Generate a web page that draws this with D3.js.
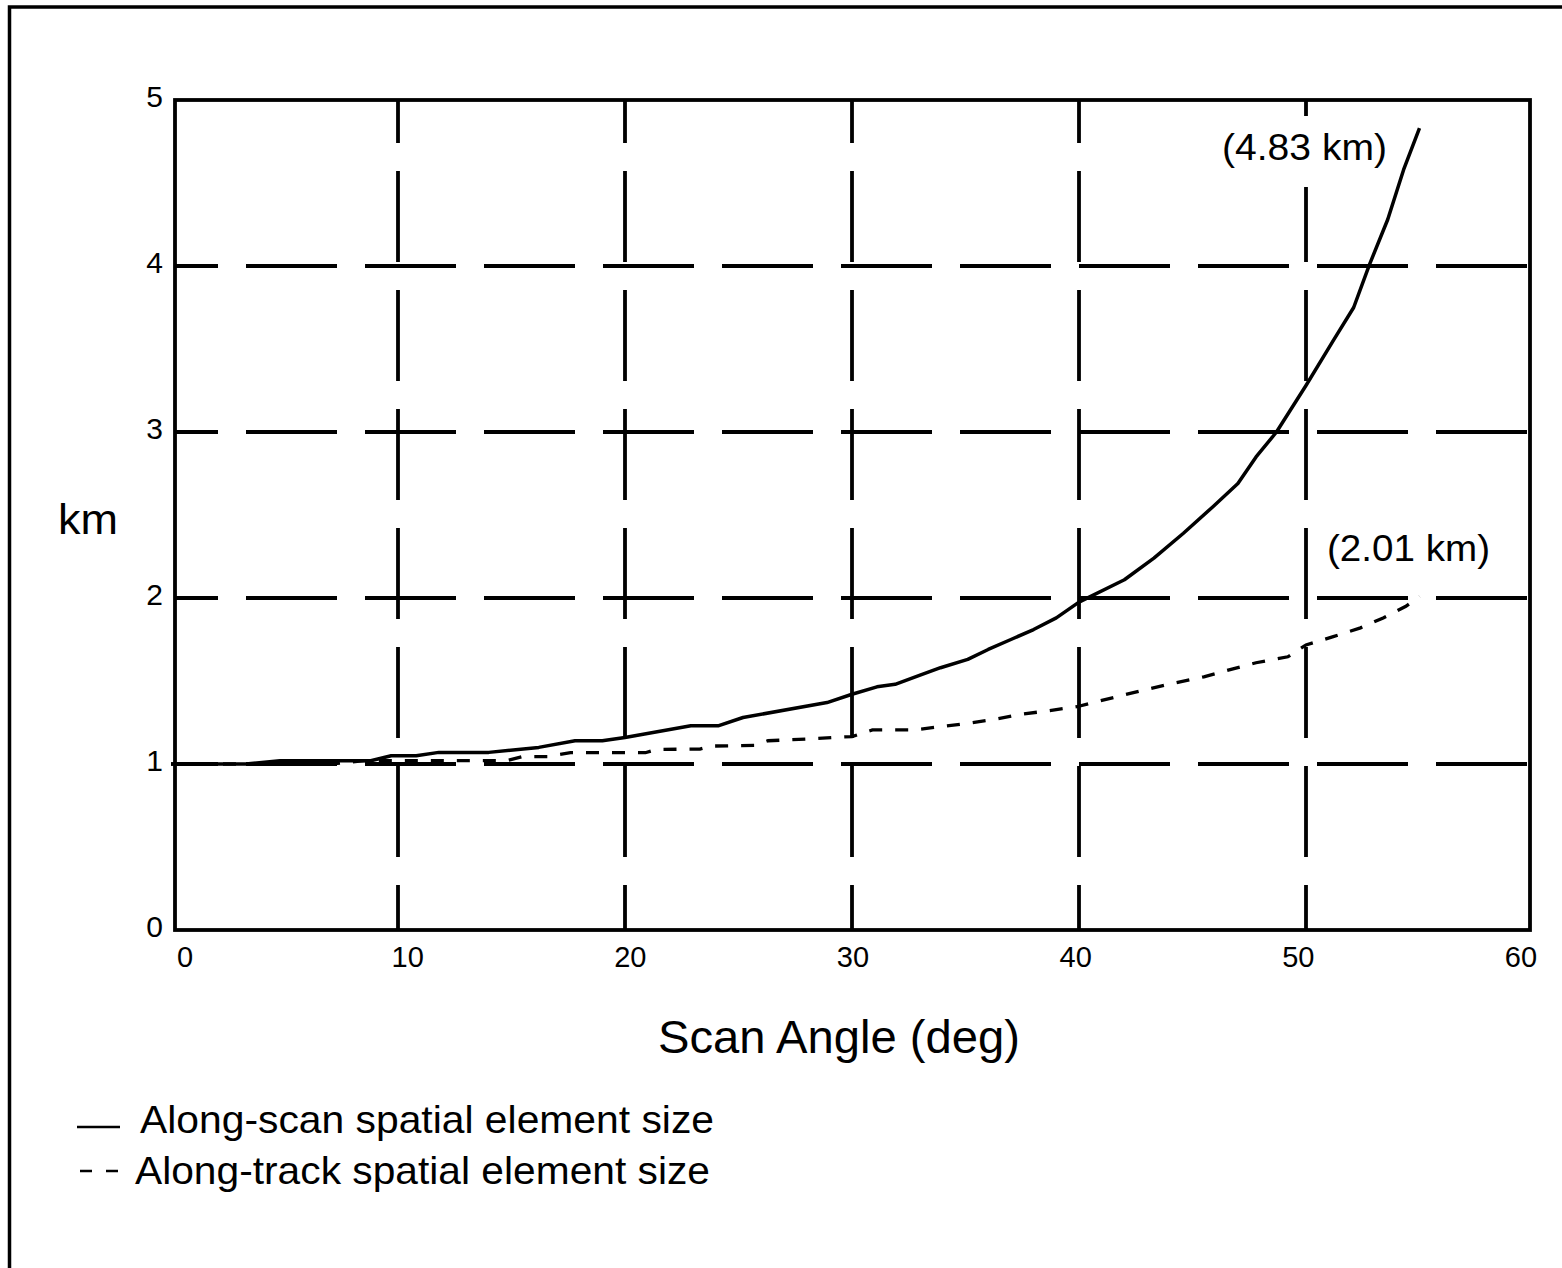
<!DOCTYPE html>
<html>
<head>
<meta charset="utf-8">
<script src="https://cdn.jsdelivr.net/npm/d3@7"></script>
<style>
  body { margin: 0; background: #fff; }
  svg { display: block; font-family: "Liberation Sans", Arial, sans-serif; }
</style>
</head>
<body>
<div id="chart"></div>
<script>
// scan angle (deg) and spatial element size (km)
const scanDeg = [0, 3.3, 4.8, 8.8, 9.7, 10.8, 11.8, 14.0, 16.2, 17.8, 19.0, 20.0, 22.9, 24.1, 25.2, 28.9, 30.0, 31.1, 31.9, 33.0, 33.9, 35.1, 36, 37, 38, 39, 40, 42.0, 43.3, 44.6, 45.9, 47.0, 47.8, 48.7, 50.0, 51.2, 52.1, 52.8, 53.6, 54.3, 55];
const alongScan = [1.00, 1.00, 1.02, 1.02, 1.05, 1.05, 1.07, 1.07, 1.10, 1.14, 1.14, 1.16, 1.23, 1.23, 1.28, 1.37, 1.42, 1.465, 1.48, 1.535, 1.58, 1.63, 1.69, 1.75, 1.81, 1.88, 1.975, 2.11, 2.24, 2.39, 2.55, 2.69, 2.85, 3.00, 3.28, 3.55, 3.75, 4.01, 4.28, 4.58, 4.83];

const trackDeg = [0, 7, 8.5, 14.8, 15.5, 16.6, 17.6, 20.9, 21.4, 23.3, 23.8, 25.7, 26.3, 28.0, 29.2, 30.0, 30.9, 32.7, 33.9, 35.1, 36.3, 37.5, 38.6, 39.9, 41.8, 43.0, 44.1, 45.5, 46.7, 47.8, 49.2, 50.0, 51.2, 52.4, 53.4, 54.4, 55];
const alongTrack = [1.00, 1.00, 1.02, 1.02, 1.045, 1.045, 1.068, 1.068, 1.088, 1.09, 1.108, 1.112, 1.14, 1.15, 1.16, 1.165, 1.205, 1.205, 1.225, 1.245, 1.27, 1.30, 1.32, 1.345, 1.41, 1.45, 1.485, 1.525, 1.57, 1.61, 1.646, 1.717, 1.767, 1.82, 1.88, 1.95, 2.01];

const xTicks = [0, 10, 20, 30, 40, 50, 60];
const yTicks = [0, 1, 2, 3, 4, 5];
const xGrid = [10, 20, 30, 40, 50];
const yGrid = [1, 2, 3, 4];

const endLabels = [
  {text: "(4.83 km)", x: 1222, y: 160, len: 165, box: true},
  {text: "(2.01 km)", x: 1327, y: 561, len: 163, box: false}
];
const legendItems = [
  {text: "Along-scan spatial element size", dash: null, len: 574},
  {text: "Along-track spatial element size", dash: "12 14", len: 575}
];

const width = 1562, height = 1268;
const frame = {left: 175, right: 1530, top: 100, bottom: 930};

const x = d3.scaleLinear([0, 60], [171, 1533]);
const xLabel = d3.scaleLinear([0, 60], [185, 1521]);
const y = d3.scaleLinear([0, 5], [frame.bottom, frame.top]);

const svg = d3.select("#chart")
  .append("svg")
  .attr("width", width)
  .attr("height", height);

svg.append("rect").attr("width", width).attr("height", height).attr("fill", "#fff");

// outer border of the figure
svg.append("rect")
  .attr("x", 9.5).attr("y", 7)
  .attr("width", width + 20).attr("height", height + 20)
  .attr("fill", "none").attr("stroke", "#000").attr("stroke-width", 3.5);

// grid
const grid = svg.append("g")
  .attr("stroke", "#000")
  .attr("stroke-width", 3.8)
  .attr("stroke-dasharray", "91 28")
  .attr("stroke-dashoffset", 48);

grid.selectAll("line.v")
  .data(xGrid)
  .join("line")
  .attr("class", "v")
  .attr("x1", d => x(d)).attr("x2", d => x(d))
  .attr("y1", frame.top).attr("y2", frame.bottom);

grid.selectAll("line.h")
  .data(yGrid)
  .join("line")
  .attr("class", "h")
  .attr("x1", frame.left).attr("x2", frame.right)
  .attr("y1", d => y(d)).attr("y2", d => y(d));

// curves
const line = d3.line().x(d => x(d[0])).y(d => y(d[1]));

svg.append("path")
  .datum(d3.zip(scanDeg, alongScan))
  .attr("fill", "none")
  .attr("stroke", "#000")
  .attr("stroke-width", 3.5)
  .attr("stroke-linejoin", "round")
  .attr("d", line);

svg.append("path")
  .datum(d3.zip(trackDeg, alongTrack))
  .attr("fill", "none")
  .attr("stroke", "#000")
  .attr("stroke-width", 3.3)
  .attr("stroke-dasharray", "13 13")
  .attr("d", line);

// plot frame
svg.append("rect")
  .attr("x", frame.left).attr("y", frame.top)
  .attr("width", frame.right - frame.left).attr("height", frame.bottom - frame.top)
  .attr("fill", "none").attr("stroke", "#000").attr("stroke-width", 3.8);

// tick labels
svg.append("g")
  .selectAll("text")
  .data(xTicks)
  .join("text")
  .attr("x", d => xLabel(d))
  .attr("y", 967)
  .attr("text-anchor", "middle")
  .attr("font-size", 29)
  .text(d => d);

svg.append("g")
  .selectAll("text")
  .data(yTicks)
  .join("text")
  .attr("x", 163)
  .attr("y", d => y(d) + 7)
  .attr("text-anchor", "end")
  .attr("font-size", 30)
  .text(d => d);

// axis titles
svg.append("text")
  .attr("x", 58).attr("y", 534)
  .attr("font-size", 42)
  .attr("textLength", 60).attr("lengthAdjust", "spacingAndGlyphs")
  .text("km");

svg.append("text")
  .attr("x", 658).attr("y", 1053)
  .attr("font-size", 46)
  .attr("textLength", 362).attr("lengthAdjust", "spacingAndGlyphs")
  .text("Scan Angle (deg)");

// end value labels
endLabels.forEach(d => {
  if (d.box) {
    svg.append("rect")
      .attr("x", d.x - 6).attr("y", d.y - 44)
      .attr("width", d.len + 12).attr("height", 71)
      .attr("fill", "#fff");
  }
  svg.append("text")
    .attr("x", d.x).attr("y", d.y)
    .attr("font-size", 37)
    .attr("textLength", d.len).attr("lengthAdjust", "spacingAndGlyphs")
    .text(d.text);
});

// legend
const legend = svg.append("g")
  .selectAll("g")
  .data(legendItems)
  .join("g")
  .attr("transform", (d, i) => `translate(0,${1127 + i * 44})`);

legend.append("line")
  .attr("x1", d => d.dash ? 80 : 77).attr("x2", 120)
  .attr("stroke", "#000")
  .attr("stroke-width", 2.5)
  .attr("stroke-dasharray", d => d.dash);

legend.append("text")
  .attr("x", (d, i) => i ? 135 : 140)
  .attr("y", (d, i) => 6 + i * 7)
  .attr("font-size", 39)
  .attr("textLength", d => d.len).attr("lengthAdjust", "spacingAndGlyphs")
  .text(d => d.text);
</script>
</body>
</html>
